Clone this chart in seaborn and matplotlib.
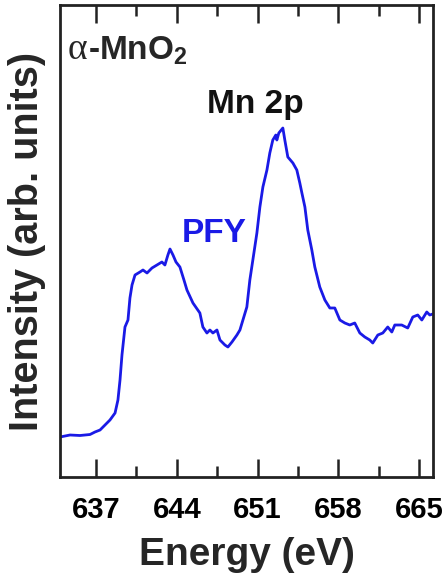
import matplotlib
matplotlib.use("Agg")
import matplotlib.pyplot as plt
from matplotlib.ticker import MultipleLocator, NullLocator
import seaborn as sns
import pandas as pd

energy = [633.88, 634.75, 635.61, 636.48, 636.91, 637.35, 637.78, 638.21, 638.65, 638.90,
          639.08, 639.25, 639.51, 639.77, 639.94, 640.12, 640.38, 640.81, 641.07, 641.42,
          641.85, 642.28, 642.71, 642.97, 643.23, 643.41, 643.67, 643.93, 644.27, 644.62,
          644.88, 645.40, 646.00, 646.26, 646.61, 646.87, 647.13, 647.48, 647.74, 648.17,
          648.43, 648.78, 649.21, 649.47, 649.73, 650.07, 650.33, 650.59, 650.94, 651.20,
          651.46, 651.81, 652.06, 652.32, 652.58, 652.67, 652.84, 653.19, 653.36, 653.62,
          654.06, 654.40, 654.66, 654.84, 655.10, 655.35, 655.70, 655.96, 656.39, 656.83,
          657.26, 657.69, 658.13, 658.56, 658.99, 659.42, 659.86, 660.29, 660.72, 660.98,
          661.42, 661.85, 662.28, 662.63, 662.89, 663.49, 664.01, 664.45, 664.88, 665.23,
          665.66, 665.92, 666.18]
intensity = [0.40, 0.42, 0.415, 0.425, 0.45, 0.47, 0.52, 0.57, 0.64, 0.77,
             0.97, 1.22, 1.50, 1.57, 1.79, 1.92, 2.02, 2.05, 2.07, 2.04,
             2.09, 2.12, 2.15, 2.12, 2.22, 2.28, 2.22, 2.15, 2.10, 1.97,
             1.87, 1.74, 1.64, 1.50, 1.44, 1.47, 1.44, 1.47, 1.37, 1.32,
             1.30, 1.35, 1.42, 1.47, 1.57, 1.70, 1.97, 2.17, 2.44, 2.70,
             2.90, 3.07, 3.24, 3.37, 3.42, 3.37, 3.44, 3.49, 3.37, 3.20,
             3.14, 3.07, 2.94, 2.84, 2.70, 2.47, 2.27, 2.10, 1.90, 1.77,
             1.69, 1.69, 1.57, 1.54, 1.52, 1.54, 1.44, 1.40, 1.37, 1.34,
             1.42, 1.44, 1.50, 1.45, 1.52, 1.52, 1.49, 1.60, 1.62, 1.57,
             1.65, 1.62, 1.63]
xticks = [637, 644, 651, 658, 665]

sns.set_style("ticks")
plt.rcParams['font.family'] = ['Liberation Sans', 'DejaVu Sans']
plt.rcParams['font.weight'] = 'bold'
plt.rcParams['mathtext.fontset'] = 'custom'
plt.rcParams['mathtext.rm'] = 'Liberation Sans:bold'
plt.rcParams['mathtext.bf'] = 'Liberation Sans:bold'
plt.rcParams['mathtext.it'] = 'Liberation Sans:bold'

df = pd.DataFrame({"Energy": energy, "Intensity": intensity})

fig = plt.figure(figsize=(4.45, 5.73), dpi=100)
ax = fig.add_axes([60/445, 1-477/573, 373/445, 472/573])
line_color = "#1a1ae6"
sns.lineplot(data=df, x="Energy", y="Intensity", ax=ax, color=line_color, lw=2.0, sort=False)

ax.set_xlim(633.88, 666.2)
ax.set_ylim(0, 4.72)
ax.set_xticks(xticks)
ax.set_xticklabels([str(t) for t in xticks])
ax.xaxis.set_minor_locator(MultipleLocator(7, offset=3.5))
ax.yaxis.set_major_locator(NullLocator())
ax.yaxis.set_minor_locator(NullLocator())
ax.tick_params(axis='x', which='major', direction='in', top=True, bottom=True,
               length=13, width=1.8, pad=14, labelsize=21, colors='#222222', labelcolor='black')
ax.tick_params(axis='x', which='minor', direction='in', top=True, bottom=True,
               length=8, width=1.8, colors='#222222')
for s in ax.spines.values():
    s.set_linewidth(2.0)
    s.set_color('#222222')

ax.set_xlabel("Energy (eV)", fontsize=28, fontweight='bold', labelpad=9)
ax.set_ylabel("Intensity (arb. units)", fontsize=28.5, fontweight='bold', labelpad=10)

ax.text(0.02, 0.885, "α", transform=ax.transAxes, fontsize=27,
        fontweight='normal', va='baseline', ha='left', family='Liberation Serif')
ax.text(0.075, 0.885, r"-MnO$_\mathregular{2}$", transform=ax.transAxes, fontsize=24,
        fontweight='bold', va='baseline', ha='left')
ax.text(0.523, 0.771, "Mn 2p", transform=ax.transAxes, fontsize=24,
        fontweight='bold', va='baseline', ha='center', color='#111111')
ax.text(0.413, 0.498, "PFY", transform=ax.transAxes, fontsize=24,
        fontweight='bold', va='baseline', ha='center', color=line_color)

fig.savefig("out.png", dpi=100)
